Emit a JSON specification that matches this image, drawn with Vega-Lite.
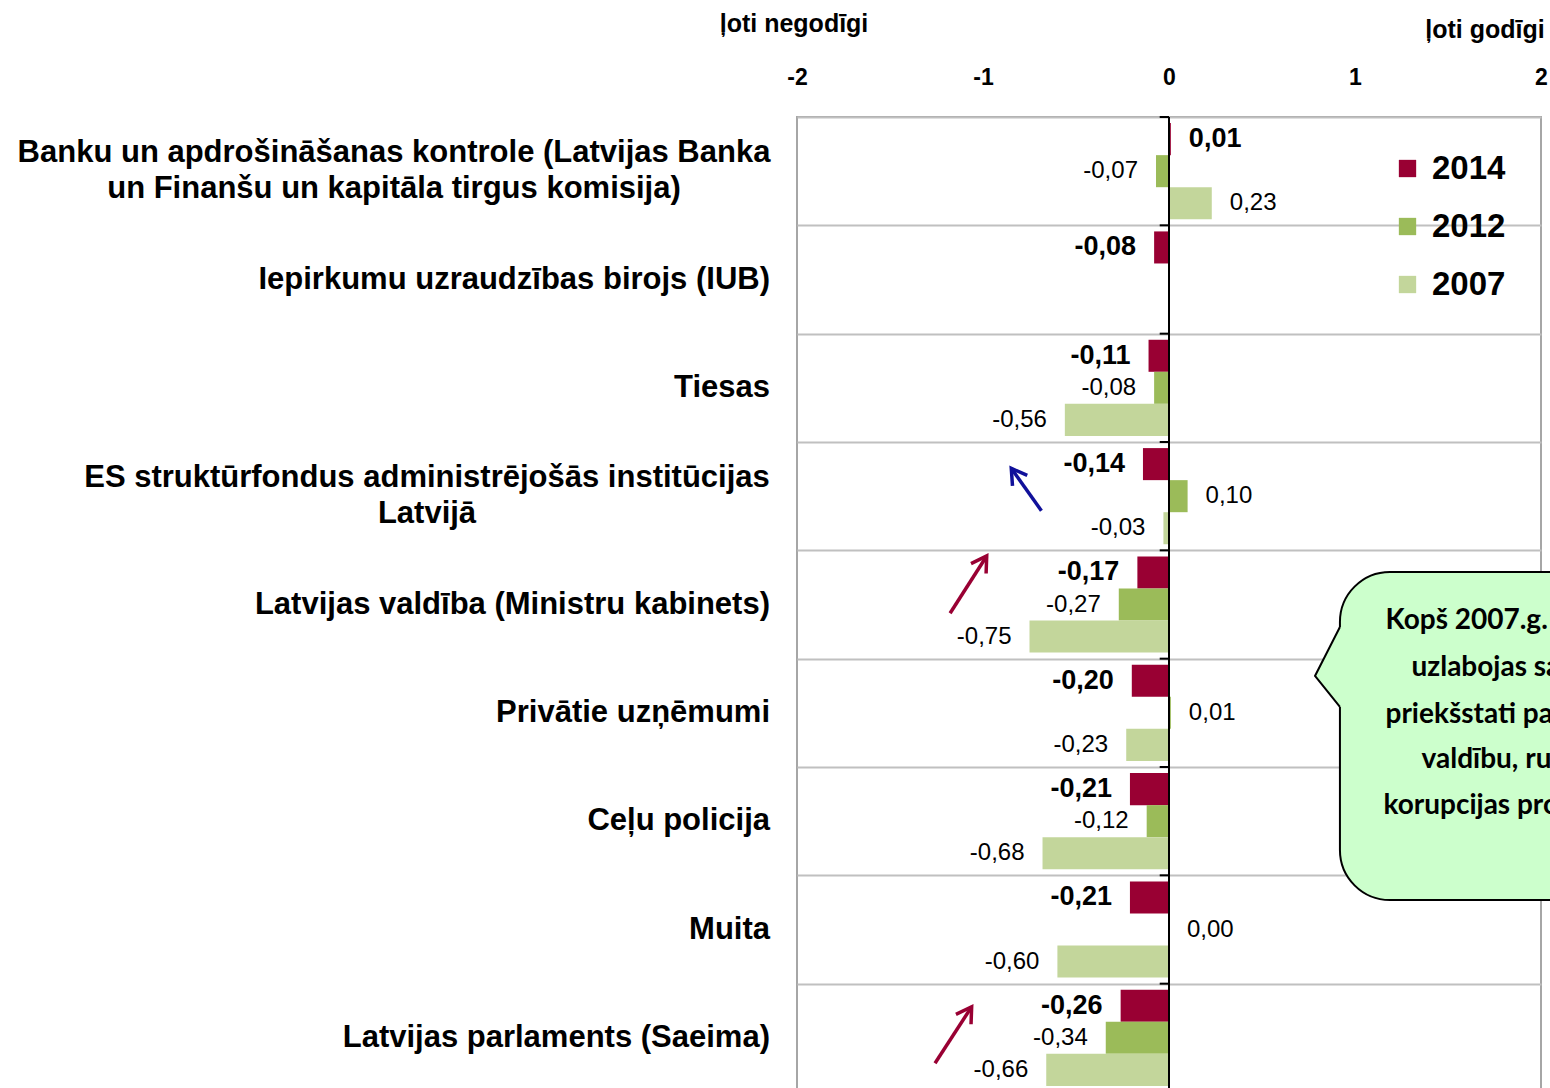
{
  "$schema": "https://vega.github.io/schema/vega-lite/v6.json",
  "autosize": {"type": "none"},
  "padding": {"left": 797, "top": 117, "right": 9, "bottom": 0},
  "width": 744,
  "height": 975,
  "background": "white",
  "config": {
    "font": "Liberation Sans",
    "locale": {"number": {"decimal": ",", "thousands": " ", "grouping": [3], "currency": ["", " €"], "minus": "-"}},
    "view": {"stroke": "#a6a6a6", "strokeWidth": 2},
    "legend": {
      "orient": "top-right", "offset": 35, "padding": 0,
      "labelFontSize": 33, "labelFontWeight": "bold", "labelColor": "black",
      "symbolType": "square", "symbolSize": 300, "symbolStrokeWidth": 0,
      "rowPadding": 24, "labelOffset": 8
    }
  },
  "datasets": {
    "cats": [
      {"cat": "Banku un apdrošināšanas kontrole (Latvijas Banka|un Finanšu un kapitāla tirgus komisija)", "lines": ["Banku un apdrošināšanas kontrole (Latvijas Banka", "un Finanšu un kapitāla tirgus komisija)"]},
      {"cat": "Iepirkumu uzraudzības birojs (IUB)"},
      {"cat": "Tiesas"},
      {"cat": "ES struktūrfondus administrējošās institūcijas|Latvijā", "lines": ["ES struktūrfondus administrējošās institūcijas", "Latvijā"]},
      {"cat": "Latvijas valdība (Ministru kabinets)"},
      {"cat": "Privātie uzņēmumi"},
      {"cat": "Ceļu policija"},
      {"cat": "Muita"},
      {"cat": "Latvijas parlaments (Saeima)"}
    ],
    "bars": [
      {"cat": "Banku un apdrošināšanas kontrole (Latvijas Banka|un Finanšu un kapitāla tirgus komisija)", "year": "2014", "value": 0.01},
      {"cat": "Banku un apdrošināšanas kontrole (Latvijas Banka|un Finanšu un kapitāla tirgus komisija)", "year": "2012", "value": -0.07},
      {"cat": "Banku un apdrošināšanas kontrole (Latvijas Banka|un Finanšu un kapitāla tirgus komisija)", "year": "2007", "value": 0.23},
      {"cat": "Iepirkumu uzraudzības birojs (IUB)", "year": "2014", "value": -0.08},
      {"cat": "Tiesas", "year": "2014", "value": -0.11},
      {"cat": "Tiesas", "year": "2012", "value": -0.08},
      {"cat": "Tiesas", "year": "2007", "value": -0.56},
      {"cat": "ES struktūrfondus administrējošās institūcijas|Latvijā", "year": "2014", "value": -0.14},
      {"cat": "ES struktūrfondus administrējošās institūcijas|Latvijā", "year": "2012", "value": 0.10},
      {"cat": "ES struktūrfondus administrējošās institūcijas|Latvijā", "year": "2007", "value": -0.03},
      {"cat": "Latvijas valdība (Ministru kabinets)", "year": "2014", "value": -0.17},
      {"cat": "Latvijas valdība (Ministru kabinets)", "year": "2012", "value": -0.27},
      {"cat": "Latvijas valdība (Ministru kabinets)", "year": "2007", "value": -0.75},
      {"cat": "Privātie uzņēmumi", "year": "2014", "value": -0.20},
      {"cat": "Privātie uzņēmumi", "year": "2012", "value": 0.01},
      {"cat": "Privātie uzņēmumi", "year": "2007", "value": -0.23},
      {"cat": "Ceļu policija", "year": "2014", "value": -0.21},
      {"cat": "Ceļu policija", "year": "2012", "value": -0.12},
      {"cat": "Ceļu policija", "year": "2007", "value": -0.68},
      {"cat": "Muita", "year": "2014", "value": -0.21},
      {"cat": "Muita", "year": "2012", "value": 0.00},
      {"cat": "Muita", "year": "2007", "value": -0.60},
      {"cat": "Latvijas parlaments (Saeima)", "year": "2014", "value": -0.26},
      {"cat": "Latvijas parlaments (Saeima)", "year": "2012", "value": -0.34},
      {"cat": "Latvijas parlaments (Saeima)", "year": "2007", "value": -0.66}
    ],
    "ticks": [{"ry": 0}, {"ry": 1}, {"ry": 2}, {"ry": 3}, {"ry": 4}, {"ry": 5}, {"ry": 6}, {"ry": 7}, {"ry": 8}, {"ry": 9}],
    "box": [{"x": 0.919, "x2": 3.2, "ry": 4.2, "ry2": 7.228}],
    "pointer": [{"px": 0.919, "ry": 4.708}, {"px": 0.785, "ry": 5.16}, {"px": 0.919, "ry": 5.446}],
    "note": [
      {"t": "Kopš 2007.g. ir", "x": 1.164, "ry": 4.652},
      {"t": "uzlabojas sabiedrības", "x": 1.304, "ry": 5.086},
      {"t": "priekšstati par Saeimu,", "x": 1.164, "ry": 5.52},
      {"t": "valdību, runājot par", "x": 1.358, "ry": 5.936},
      {"t": "korupcijas  problēmu", "x": 1.153, "ry": 6.36}
    ],
    "arrows": [
      {"kind": "blue", "tx": -0.686, "ty": 3.634, "hx": -0.848, "hy": 3.243},
      {"kind": "red", "tx": -1.177, "ty": 4.581, "hx": -0.98, "hy": 4.052},
      {"kind": "red", "tx": -1.258, "ty": 8.735, "hx": -1.061, "hy": 8.213}
    ],
    "titles": [
      {"t": "ļoti negodīgi", "x": -2.016, "ry": -0.858},
      {"t": "ļoti godīgi", "x": 1.699, "ry": -0.803}
    ]
  },
  "resolve": {"scale": {"y": "independent"}, "axis": {"y": "independent"}},
  "layer": [
    {
      "encoding": {
        "y": {
          "field": "cat", "type": "nominal", "sort": null,
          "scale": {"paddingInner": 0, "paddingOuter": 0},
          "axis": {
            "title": null, "orient": "left", "ticks": false, "domain": false, "labels": false,
            "grid": true, "tickBand": "extent", "gridColor": "#c0c0c0", "gridWidth": 2
          }
        }
      },
      "layer": [
        {
          "data": {"name": "bars"},
          "mark": {"type": "bar"},
          "encoding": {
            "x": {
              "field": "value", "type": "quantitative",
              "scale": {"domain": [-2, 2], "nice": false},
              "axis": {
                "orient": "top", "title": null, "values": [-2, -1, 0, 1, 2], "format": "d",
                "ticks": false, "domain": false, "grid": false, "labelFlush": false,
                "labelFontSize": 23, "labelFontWeight": "bold", "labelColor": "black", "labelPadding": 28
              }
            },
            "yOffset": {"field": "year", "type": "nominal", "scale": {"domain": ["2014", "2012", "2007"], "paddingInner": 0, "paddingOuter": 0.19}},
            "color": {"field": "year", "type": "nominal",
              "scale": {"domain": ["2014", "2012", "2007"], "range": ["#990033", "#9BBB59", "#C3D69B"]},
              "legend": {"title": null}}
          }
        },
        {
          "data": {"name": "bars"},
          "transform": [{"filter": "datum.year == '2014' && datum.value < 0"}],
          "mark": {"type": "text", "align": "right", "baseline": "middle", "dx": -18, "fontSize": 27, "fontWeight": "bold", "color": "black"},
          "encoding": {
            "x": {"field": "value", "type": "quantitative"},
            "yOffset": {"field": "year", "type": "nominal"},
            "text": {"field": "value", "type": "quantitative", "format": ".2f"}
          }
        },
        {
          "data": {"name": "bars"},
          "transform": [{"filter": "datum.year == '2014' && datum.value >= 0"}],
          "mark": {"type": "text", "align": "left", "baseline": "middle", "dx": 18, "fontSize": 27, "fontWeight": "bold", "color": "black"},
          "encoding": {
            "x": {"field": "value", "type": "quantitative"},
            "yOffset": {"field": "year", "type": "nominal"},
            "text": {"field": "value", "type": "quantitative", "format": ".2f"}
          }
        },
        {
          "data": {"name": "bars"},
          "transform": [{"filter": "datum.year != '2014' && datum.value < 0"}],
          "mark": {"type": "text", "align": "right", "baseline": "middle", "dx": -18, "fontSize": 24, "color": "black"},
          "encoding": {
            "x": {"field": "value", "type": "quantitative"},
            "yOffset": {"field": "year", "type": "nominal"},
            "text": {"field": "value", "type": "quantitative", "format": ".2f"}
          }
        },
        {
          "data": {"name": "bars"},
          "transform": [{"filter": "datum.year != '2014' && datum.value >= 0"}],
          "mark": {"type": "text", "align": "left", "baseline": "middle", "dx": 18, "fontSize": 24, "color": "black"},
          "encoding": {
            "x": {"field": "value", "type": "quantitative"},
            "yOffset": {"field": "year", "type": "nominal"},
            "text": {"field": "value", "type": "quantitative", "format": ".2f"}
          }
        },
        {
          "data": {"name": "cats"},
          "transform": [{"filter": "indexof(datum.cat, '|') < 0"}],
          "mark": {"type": "text", "align": "right", "baseline": "middle", "dx": -27, "fontSize": 31, "fontWeight": "bold", "color": "black"},
          "encoding": {
            "x": {"datum": -2, "type": "quantitative"},
            "text": {"field": "cat", "type": "nominal"}
          }
        },
        {
          "data": {"name": "cats"},
          "transform": [{"filter": "indexof(datum.cat, 'Banku') == 0"}],
          "mark": {"type": "text", "align": "center", "baseline": "middle", "dx": -403, "dy": -18, "lineHeight": 36, "fontSize": 31, "fontWeight": "bold", "color": "black"},
          "encoding": {
            "x": {"datum": -2, "type": "quantitative"},
            "text": {"field": "lines", "type": "nominal"}
          }
        },
        {
          "data": {"name": "cats"},
          "transform": [{"filter": "indexof(datum.cat, 'ES ') == 0"}],
          "mark": {"type": "text", "align": "center", "baseline": "middle", "dx": -370, "dy": -18, "lineHeight": 36, "fontSize": 31, "fontWeight": "bold", "color": "black"},
          "encoding": {
            "x": {"datum": -2, "type": "quantitative"},
            "text": {"field": "lines", "type": "nominal"}
          }
        }
      ]
    },
    {
      "layer": [
        {
          "data": {"values": [{}]},
          "mark": {"type": "rule", "color": "black", "strokeWidth": 2},
          "encoding": {"x": {"datum": 0, "type": "quantitative"}}
        },
        {
          "data": {"name": "ticks"},
          "mark": {"type": "rule", "color": "black", "strokeWidth": 2},
          "encoding": {
            "x": {"datum": -0.05, "type": "quantitative"},
            "x2": {"datum": 0},
            "y": {"field": "ry", "type": "quantitative", "scale": {"domain": [0, 9], "reverse": true, "nice": false, "zero": false}, "axis": null}
          }
        },
        {
          "data": {"name": "box"},
          "mark": {"type": "rect", "fill": "#CCFFCC", "stroke": "black", "strokeWidth": 2, "cornerRadius": 50},
          "encoding": {
            "x": {"field": "x", "type": "quantitative"},
            "x2": {"field": "x2"},
            "y": {"field": "ry", "type": "quantitative", "scale": {"domain": [0, 9], "reverse": true, "nice": false, "zero": false}, "axis": null},
            "y2": {"field": "ry2"}
          }
        },
        {
          "data": {"name": "pointer"},
          "mark": {"type": "area", "orient": "horizontal", "fill": "#CCFFCC", "strokeWidth": 0},
          "encoding": {
            "x": {"field": "px", "type": "quantitative"},
            "x2": {"datum": 0.95},
            "y": {"field": "ry", "type": "quantitative", "scale": {"domain": [0, 9], "reverse": true, "nice": false, "zero": false}, "axis": null}
          }
        },
        {
          "data": {"name": "pointer"},
          "mark": {"type": "line", "color": "black", "strokeWidth": 2},
          "encoding": {
            "x": {"field": "px", "type": "quantitative"},
            "y": {"field": "ry", "type": "quantitative", "scale": {"domain": [0, 9], "reverse": true, "nice": false, "zero": false}, "axis": null},
            "order": {"field": "ry", "type": "quantitative"}
          }
        },
        {
          "data": {"name": "note"},
          "mark": {"type": "text", "align": "left", "baseline": "middle", "font": "Lato", "fontSize": 28, "fontWeight": "bold", "color": "black"},
          "encoding": {
            "x": {"field": "x", "type": "quantitative"},
            "y": {"field": "ry", "type": "quantitative", "scale": {"domain": [0, 9], "reverse": true, "nice": false, "zero": false}, "axis": null},
            "text": {"field": "t"}
          }
        },
        {
          "data": {"name": "arrows"},
          "transform": [{"filter": "datum.kind == 'blue'"}],
          "layer": [
            {
              "mark": {"type": "rule", "color": "#10109a", "strokeWidth": 3.5},
              "encoding": {
                "x": {"field": "tx", "type": "quantitative"},
                "x2": {"field": "hx"},
                "y": {"field": "ty", "type": "quantitative", "scale": {"domain": [0, 9], "reverse": true, "nice": false, "zero": false}, "axis": null},
                "y2": {"field": "hy"}
              }
            },
            {
              "mark": {"type": "point", "shape": "M-0.6,1L0,0L0.6,1", "filled": false, "stroke": "#10109a", "strokeWidth": 3.5, "size": 900, "angle": -35, "opacity": 1},
              "encoding": {
                "x": {"field": "hx", "type": "quantitative"},
                "y": {"field": "hy", "type": "quantitative", "scale": {"domain": [0, 9], "reverse": true, "nice": false, "zero": false}, "axis": null}
              }
            }
          ]
        },
        {
          "data": {"name": "arrows"},
          "transform": [{"filter": "datum.kind == 'red'"}],
          "layer": [
            {
              "mark": {"type": "rule", "color": "#990033", "strokeWidth": 3.5},
              "encoding": {
                "x": {"field": "tx", "type": "quantitative"},
                "x2": {"field": "hx"},
                "y": {"field": "ty", "type": "quantitative", "scale": {"domain": [0, 9], "reverse": true, "nice": false, "zero": false}, "axis": null},
                "y2": {"field": "hy"}
              }
            },
            {
              "mark": {"type": "point", "shape": "M-0.6,1L0,0L0.6,1", "filled": false, "stroke": "#990033", "strokeWidth": 3.5, "size": 900, "angle": 33, "opacity": 1},
              "encoding": {
                "x": {"field": "hx", "type": "quantitative"},
                "y": {"field": "hy", "type": "quantitative", "scale": {"domain": [0, 9], "reverse": true, "nice": false, "zero": false}, "axis": null}
              }
            }
          ]
        },
        {
          "data": {"name": "titles"},
          "mark": {"type": "text", "align": "center", "baseline": "middle", "fontSize": 25, "fontWeight": "bold", "color": "black"},
          "encoding": {
            "x": {"field": "x", "type": "quantitative"},
            "y": {"field": "ry", "type": "quantitative", "scale": {"domain": [0, 9], "reverse": true, "nice": false, "zero": false}, "axis": null},
            "text": {"field": "t"}
          }
        }
      ]
    }
  ]
}
